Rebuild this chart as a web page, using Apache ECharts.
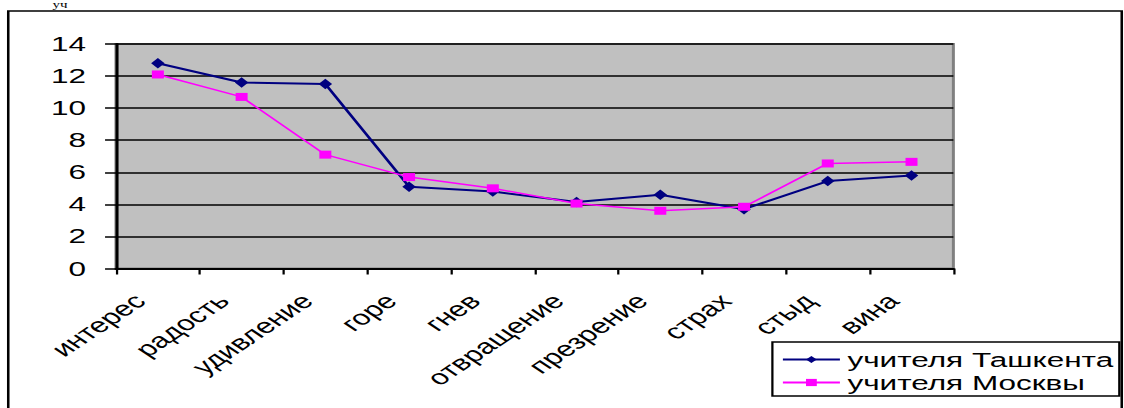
<!DOCTYPE html>
<html>
<head>
<meta charset="utf-8">
<script src="https://cdn.jsdelivr.net/npm/echarts@6/dist/echarts.min.js"></script>
<style>
  html, body { margin: 0; padding: 0; background: #fff; }
  #wrap { width: 1124px; height: 408px; overflow: hidden; position: relative; background: #fff; }
  #c { width: 749px; height: 408px; transform: scaleX(1.5006676); transform-origin: 0 0; }
</style>
</head>
<body>
<div id="wrap"><div id="c"></div></div>
<script>
const categories = ['интерес', 'радость', 'удивление', 'горе', 'гнев', 'отвращение', 'презрение', 'страх', 'стыд', 'вина'];
const tashkent = [12.8, 11.6, 11.5, 5.1, 4.8, 4.15, 4.6, 3.7, 5.45, 5.8];
const moscow = [12.1, 10.7, 7.1, 5.7, 5.0, 4.05, 3.6, 3.85, 6.55, 6.65];
const yTicks = { min: 0, max: 14, interval: 2 };
const seriesNames = ['учителя Ташкента', 'учителя Москвы'];

const FONT = "'Liberation Sans', Arial, sans-serif";
const chart = echarts.init(document.getElementById('c'), null, { renderer: 'svg', width: 749, height: 408 });

chart.setOption({
  animation: false,
  backgroundColor: '#fff',
  textStyle: { fontFamily: FONT, color: '#000' },
  graphic: [
    { type: 'rect', z: 0, shape: { x: 5.5, y: 11, width: 742, height: 420 },
      style: { fill: 'none', stroke: '#000', lineWidth: 1.7 } },
    { type: 'text', left: 35, top: 0,
      style: { text: 'уч', font: "10px 'Liberation Serif', serif", fill: '#000' } }
  ],
  grid: {
    left: 77.3, top: 44, right: 113.7, bottom: 139.5,
    show: true, backgroundColor: '#C0C0C0', borderColor: '#808080', borderWidth: 2
  },
  xAxis: {
    type: 'category',
    data: categories,
    boundaryGap: true,
    axisLine: { show: true, lineStyle: { color: '#000', width: 2 } },
    axisTick: { show: true, length: 6, lineStyle: { color: '#000', width: 1.5 } },
    axisLabel: {
      rotate: 45, interval: 0, margin: 17, padding: [0, 17, 0, 0],
      fontSize: 21, fontFamily: FONT, color: '#000'
    },
    splitLine: { show: false }
  },
  yAxis: {
    type: 'value',
    min: yTicks.min, max: yTicks.max, interval: yTicks.interval,
    axisLine: { show: true, lineStyle: { color: '#000', width: 2 } },
    axisTick: { show: true, length: 7.3, lineStyle: { color: '#000', width: 1.5 } },
    axisLabel: { margin: 20, fontSize: 21, fontFamily: FONT, color: '#000' },
    splitLine: { show: true, lineStyle: { color: '#000', width: 1.5 } }
  },
  legend: {
    orient: 'vertical',
    left: 514.7, top: 342,
    width: 227,
    padding: [7, 4, 3, 6],
    itemGap: 2,
    itemWidth: 38, itemHeight: 9,
    backgroundColor: '#fff',
    borderColor: '#000', borderWidth: 1.5, borderRadius: 0,
    textStyle: { fontSize: 21, fontFamily: FONT, color: '#000', padding: [0, 0, 0, 0] },
    data: seriesNames
  },
  series: [
    {
      name: seriesNames[0], type: 'line', data: tashkent,
      symbol: 'diamond', symbolSize: [9, 10.5],
      lineStyle: { color: '#000080', width: 2 },
      itemStyle: { color: '#000080' }, z: 3
    },
    {
      name: seriesNames[1], type: 'line', data: moscow,
      symbol: 'rect', symbolSize: [8, 8],
      lineStyle: { color: '#FF00FF', width: 1.5 },
      itemStyle: { color: '#FF00FF' }, z: 4
    }
  ]
});
</script>
</body>
</html>
